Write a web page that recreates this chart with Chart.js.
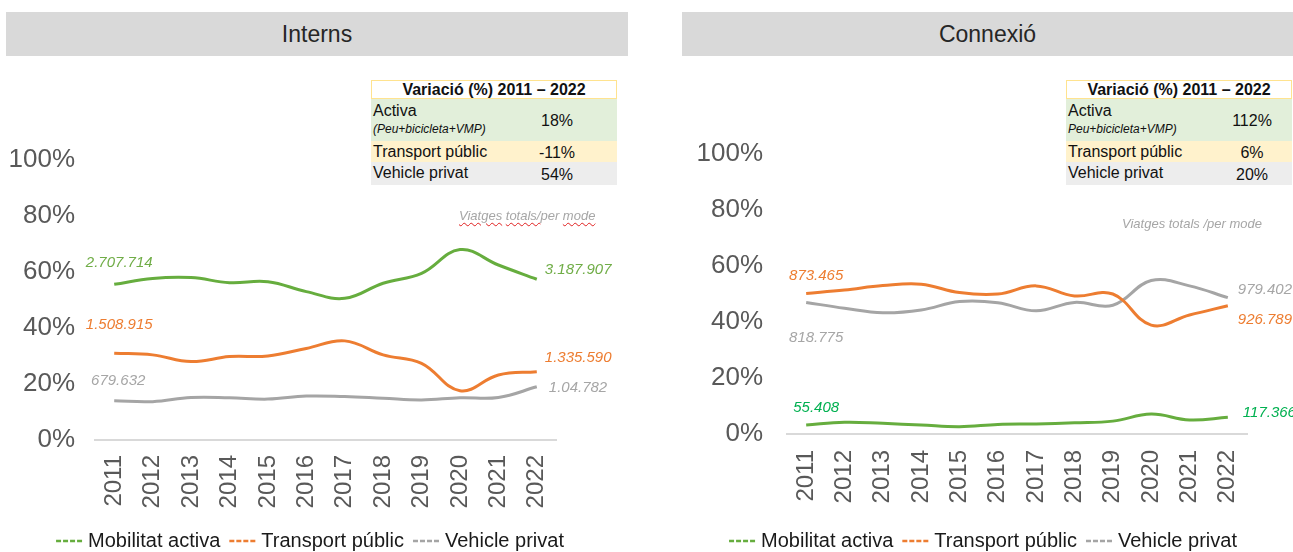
<!DOCTYPE html>
<html><head><meta charset="utf-8">
<script src="https://cdn.jsdelivr.net/npm/chart.js@4.4.0/dist/chart.umd.min.js"></script>
<style>
html,body{margin:0;padding:0;background:#fff;width:1293px;height:552px;overflow:hidden;position:relative;font-family:"Liberation Sans",Arial,sans-serif;}
.bar{position:absolute;top:12px;height:44px;background:#d9d9d9;color:#262626;font-size:23px;line-height:44px;text-align:center;}
canvas{position:absolute;top:0;}
.note{position:absolute;font-style:italic;font-size:13px;color:#a6a6a6;white-space:nowrap;line-height:16px;z-index:3;}
.note .sp{text-decoration:underline wavy #e02020;text-decoration-thickness:1px;text-underline-offset:2px;}
.tbl{position:absolute;top:80px;font-size:16px;color:#111;z-index:3;}
.tbl .hd{height:17px;line-height:17px;border:1.5px solid #ffe38f;background:#fff;font-weight:bold;text-align:center;}
.tbl .row{position:relative;}
.tbl .lab{position:absolute;left:2px;}
.tbl .val{position:absolute;text-align:center;width:70px;}
</style>
</head><body>
<div class="bar" style="left:6px;width:622px;">Interns</div>
<div class="bar" style="left:682px;width:611px;">Connexió</div>
<canvas id="c1" width="640" height="552" style="left:0px"></canvas>
<canvas id="c2" width="640" height="552" style="left:680px"></canvas>
<div class="note" style="left:459px;top:208px;"><span class="sp">Viatges</span> <span class="sp">totals/</span>per <span class="sp">mode</span></div>
<div class="note" style="left:1122px;top:216px;">Viatges totals /per mode</div>
<div class="tbl" id="t1" style="left:371px;width:246px;"></div>
<div class="tbl" id="t2" style="left:1066px;width:226px;"></div>
<script>
// ---------- data ----------
const years = ['2011','2012','2013','2014','2015','2016','2017','2018','2019','2020','2021','2022'];
const seriesNames = ['Mobilitat activa','Transport públic','Vehicle privat'];
const yTicks = [0,20,40,60,80,100];

const internsActiva = [55.6,57.7,58.0,56.2,56.5,53.0,50.6,56.0,59.5,68.0,62.5,57.4];
const internsPublic = [31.0,30.4,28.0,29.8,30.0,32.7,35.4,30.4,27.4,17.6,23.2,24.4];
const internsPrivat = [14.0,13.7,15.2,15.1,14.6,15.7,15.5,14.9,14.3,15.1,15.2,19.0];

const connexioActiva = [3.2,4.2,3.8,3.2,2.6,3.4,3.6,4.0,4.6,7.1,5.0,6.0];
const connexioPublic = [50.2,51.4,53.0,53.5,50.5,50.0,52.9,49.3,50.0,38.9,42.5,45.8];
const connexioPrivat = [47.0,44.9,43.3,44.3,47.3,46.9,44.0,47.0,46.0,54.8,52.9,48.7];

const internsStartLabels = ['2.707.714','1.508.915','679.632'];
const internsEndLabels = ['3.187.907','1.335.590','1.04.782'];
const connexioStartLabels = ['55.408','873.465','818.775'];
const connexioEndLabels = ['117.366','926.789','979.402'];

const tableHeader = 'Variació (%) 2011 – 2022';
const tableRows = ['Activa','Transport públic','Vehicle privat'];
const internsSub = '(Peu+bicicleta+VMP)';
const connexioSub = 'Peu+bicicleta+VMP)';
const internsVariation = ['18%','-11%','54%'];
const connexioVariation = ['112%','6%','20%'];

// ---------- tables ----------
function buildTable(el, sub, vals, valCenter){
  const bgs = ['#e2efda','#fff2cc','#ededed'];
  const hs = [42,21,23];
  let html = '<div class="hd">'+tableHeader+'</div>';
  tableRows.forEach((r,i)=>{
    let lab = r;
    let labStyle = 'top:'+(i===0?3:2)+'px;line-height:18px;';
    if(i===0) lab = '<div style="line-height:18px">'+r+'</div><div style="font-style:italic;font-size:12px;line-height:16px;margin-top:1px">'+sub+'</div>';
    html += '<div class="row" style="height:'+hs[i]+'px;background:'+bgs[i]+'">'+
      '<div class="lab" style="'+labStyle+'">'+lab+'</div>'+
      '<div class="val" style="left:'+(valCenter-35)+'px;top:'+((hs[i]-18)/2+1)+'px;line-height:18px">'+vals[i]+'</div></div>';
  });
  el.innerHTML = html;
}
buildTable(document.getElementById('t1'), internsSub, internsVariation, 186);
buildTable(document.getElementById('t2'), connexioSub, connexioVariation, 186);

// ---------- plugins ----------
const FONT = '"Liberation Sans", Arial, sans-serif';
const legendPlugin = {
  id:'customLegend',
  afterDraw(chart, args, opts){
    const ctx = chart.ctx;
    ctx.save();
    ctx.font = '20px ' + FONT;
    ctx.textBaseline = 'middle';
    const items = chart.data.datasets.map(d=>({text:d.label,color:d.borderColor,w:ctx.measureText(d.label).width}));
    const total = items.reduce((s,i)=>s+opts.box+opts.gap+i.w,0)+opts.spacing*(items.length-1);
    let x = opts.cx - total/2;
    items.forEach(it=>{
      ctx.strokeStyle = it.color; ctx.lineWidth = 2.5; ctx.setLineDash([5,2]);
      ctx.beginPath(); ctx.moveTo(x,opts.cy); ctx.lineTo(x+opts.box,opts.cy); ctx.stroke();
      ctx.setLineDash([]);
      ctx.fillStyle = '#1a1a1a'; ctx.textAlign='left';
      ctx.fillText(it.text, x+opts.box+opts.gap, opts.cy);
      x += opts.box+opts.gap+it.w+opts.spacing;
    });
    ctx.restore();
  }
};
const labelPlugin = {
  id:'endLabels',
  afterDatasetsDraw(chart, args, opts){
    const ctx = chart.ctx; ctx.save();
    ctx.font = 'italic 15px ' + FONT;
    ctx.textBaseline = 'middle';
    chart.data.datasets.forEach((ds,i)=>{
      const meta = chart.getDatasetMeta(i);
      const p0 = meta.data[0], pN = meta.data[meta.data.length-1];
      const s = opts.startOff[i], e = opts.endOff[i];
      ctx.fillStyle = opts.colors[i];
      ctx.textAlign = 'center'; ctx.fillText(opts.startText[i], p0.x+s[0], p0.y+s[1]);
      ctx.textAlign = 'left'; ctx.fillText(opts.endText[i], pN.x+e[0], pN.y+e[1]);
    });
    ctx.restore();
  }
};

const COLORS = ['#66ad3e','#ed7d31','#a5a5a5'];

function makeChart(id, series, cfg){
  return new Chart(document.getElementById(id), {
    type:'line',
    data:{
      labels: years,
      datasets: series.map((s,i)=>({
        label: seriesNames[i], data: s, borderColor: COLORS[i], backgroundColor: COLORS[i],
        borderWidth: 3, pointRadius: 0, tension: 0.4, fill:false
      }))
    },
    options:{
      responsive:false, animation:false, devicePixelRatio:1,
      layout:{padding:cfg.padding},
      plugins:{
        legend:{display:false}, tooltip:{enabled:false},
        customLegend:{cx:cfg.legendCx, cy:541, box:26, gap:6, spacing:9},
        endLabels:{startText:cfg.startText, endText:cfg.endText, startOff:cfg.startOff, endOff:cfg.endOff, colors:cfg.labelColors}
      },
      scales:{
        x:{
          offset:true,
          grid:{display:false, drawTicks:false},
          border:{display:true, color:'#d9d9d9', width:2},
          ticks:{minRotation:90, maxRotation:90, autoSkip:false, color:'#595959', font:{size:24, family:FONT}, padding:cfg.xPad},
          afterFit:(s)=>{ s.height = cfg.xHeight; }
        },
        y:{
          min:0, max:100,
          afterBuildTicks:(s)=>{ s.ticks = yTicks.map(v=>({value:v})); },
          ticks:{callback:(v)=>v+'%', color:'#595959', font:{size:26, family:FONT}, padding:cfg.yPad},
          grid:{display:false, drawTicks:false},
          border:{display:false},
          afterFit:(s)=>{ s.width = cfg.yWidth; }
        }
      }
    },
    plugins:[labelPlugin, legendPlugin]
  });
}

makeChart('c1', [internsActiva, internsPublic, internsPrivat], {
  padding:{top:160,right:84,bottom:32,left:0},
  xHeight:80, xPad:15, yWidth:95, yPad:20, legendCx:310,
  startText:internsStartLabels, endText:internsEndLabels,
  startOff:[[5,-21],[5,-28],[4,-20]], endOff:[[8,-9],[8,-14],[12,1]],
  labelColors:['#70ad47','#ed7d31','#a6a6a6']
});
makeChart('c2', [connexioActiva, connexioPublic, connexioPrivat], {
  padding:{top:154,right:73,bottom:38,left:0},
  xHeight:80, xPad:16, yWidth:107, yPad:24, legendCx:303,
  startText:connexioStartLabels, endText:connexioEndLabels,
  startOff:[[10,-17],[10,-18],[10,35]], endOff:[[15,-4],[10,14],[10,-8]],
  labelColors:['#00b050','#ed7d31','#a6a6a6']
});
</script>
</body></html>
